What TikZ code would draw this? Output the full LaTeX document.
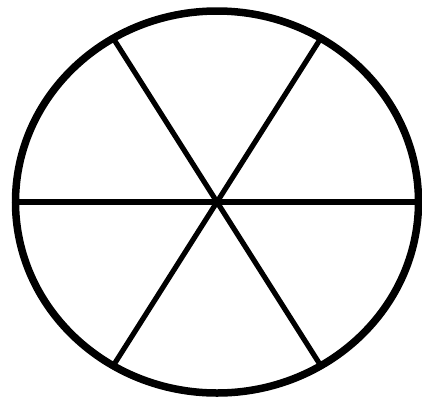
\documentclass[tikz,border=0pt]{standalone}
\usetikzlibrary{calc}
\begin{document}
\begin{tikzpicture}[x=1pt,y=-1pt,
  rim/.style={line width=7.5pt},
  spoke/.style={line width=5.2pt}]
\useasboundingbox (0,0) rectangle (422,400);
\coordinate (c) at (217,202);
\coordinate (l) at (16,202);
\coordinate (r) at (418,202);
\coordinate (tl) at ($(c)+(121:201.5pt and 191pt)$);
\coordinate (tr) at ($(c)+(59:201.5pt and 191pt)$);
\coordinate (bl) at ($(c)+(239:201.5pt and 191pt)$);
\coordinate (br) at ($(c)+(301:201.5pt and 191pt)$);
\draw[spoke] (l) -- (r);
\draw[spoke] (tl) -- (br);
\draw[spoke] (tr) -- (bl);
\draw[rim] (c) ellipse [x radius=201.5pt, y radius=191pt];
\end{tikzpicture}
\end{document}
